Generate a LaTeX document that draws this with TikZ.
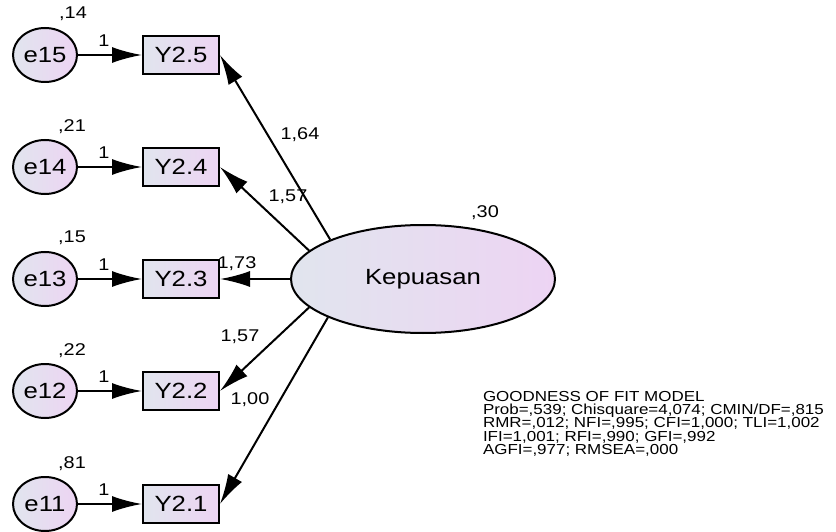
\documentclass[tikz,border=0pt]{standalone}
\usepackage{fontspec}
\setmainfont{Liberation Sans}[FakeStretch=1.17]
\usepackage{tikz}
\usetikzlibrary{shapes.geometric,arrows.meta}
\definecolor{shadeL}{RGB}{225,229,238}
\definecolor{shadeR}{RGB}{237,212,243}
\tikzstyle{errterm}=[ellipse, draw, left color=shadeL, right color=shadeR, line width=2pt, minimum width=64pt, minimum height=54pt, inner sep=0pt, font=\fontsize{22}{24}\selectfont]
\tikzstyle{indicator}=[rectangle, draw, left color=shadeL, right color=shadeR, line width=2pt, minimum width=76pt, minimum height=38pt, inner sep=0pt, font=\fontsize{22}{24}\selectfont]
\tikzstyle{latent}=[ellipse, draw, left color=shadeL, right color=shadeR, line width=2pt, minimum width=264pt, minimum height=108pt, inner sep=0pt, font=\fontsize{22}{24}\selectfont]
\tikzstyle{est}=[inner sep=0pt, font=\fontsize{17}{19}\selectfont]

\begin{document}
\begin{tikzpicture}[x=1pt, y=-1pt, line width=2pt, >={Latex[length=30pt,width=16pt]}]
                \useasboundingbox (0,0) rectangle (836,532);
                % indicators
                \node[indicator] (y25) at (181, 55) {Y2.5};
                \node[indicator] (y24) at (181, 167) {Y2.4};
                \node[indicator] (y23) at (181, 279) {Y2.3};
                \node[indicator] (y22) at (181, 391) {Y2.2};
                \node[indicator] (y21) at (181, 504) {Y2.1};
                % error terms
                \node[errterm] (e15) at (45, 55) {e15};
                \node[errterm] (e14) at (45, 167) {e14};
                \node[errterm] (e13) at (45, 279) {e13};
                \node[errterm] (e12) at (45, 391) {e12};
                \node[errterm] (e11) at (45, 504) {e11};
                \node[est] (v15) at (73, 14) {,14};
                \node[est] (v14) at (72, 127) {,21};
                \node[est] (v13) at (72, 238) {,15};
                \node[est] (v12) at (72, 351) {,22};
                \node[est] (v11) at (72, 464) {,81};
                \draw[->] (e15)--(y25);
                \draw[->] (e14)--(y24);
                \draw[->] (e13)--(y23);
                \draw[->] (e12)--(y22);
                \draw[->] (e11)--(y21);
                \node[est] (w15) at (104, 41) {1};
                \node[est] (w14) at (104, 153) {1};
                \node[est] (w13) at (104, 265) {1};
                \node[est] (w12) at (104, 377) {1};
                \node[est] (w11) at (104, 490) {1};
                % latent variable
                \node[latent] (kep) at (423, 279) {Kepuasan};
                \node[est] (vkep) at (485, 213) {,30};
                \draw[->] (kep.157.7)--(y25.east);
                \draw[->] (kep.166)--(y24.east);
                \draw[->] (kep.180)--(y23.east);
                \draw[->] (kep.194)--(y22.east);
                \draw[->] (kep.202.7)--(y21.east);
                \node[est] (l25) at (300, 135) {1,64};
                \node[est] (l24) at (288, 197) {1,57};
                \node[est] (l23) at (237, 264) {1,73};
                \node[est] (l22) at (240, 337) {1,57};
                \node[est] (l21) at (250, 400) {1,00};
                % fit indices
                \node[anchor=north west, align=left, inner sep=0pt, font=\fontsize{14.5}{13.3}\selectfont] (fit) at (482, 390)
                    {GOODNESS OF FIT MODEL\\
                     Prob=,539; Chisquare=4,074; CMIN/DF=,815\\
                     RMR=,012; NFI=,995; CFI=1,000; TLI=1,002\\
                     IFI=1,001; RFI=,990; GFI=,992\\
                     AGFI=,977; RMSEA=,000};
            \end{tikzpicture}
\end{document}
